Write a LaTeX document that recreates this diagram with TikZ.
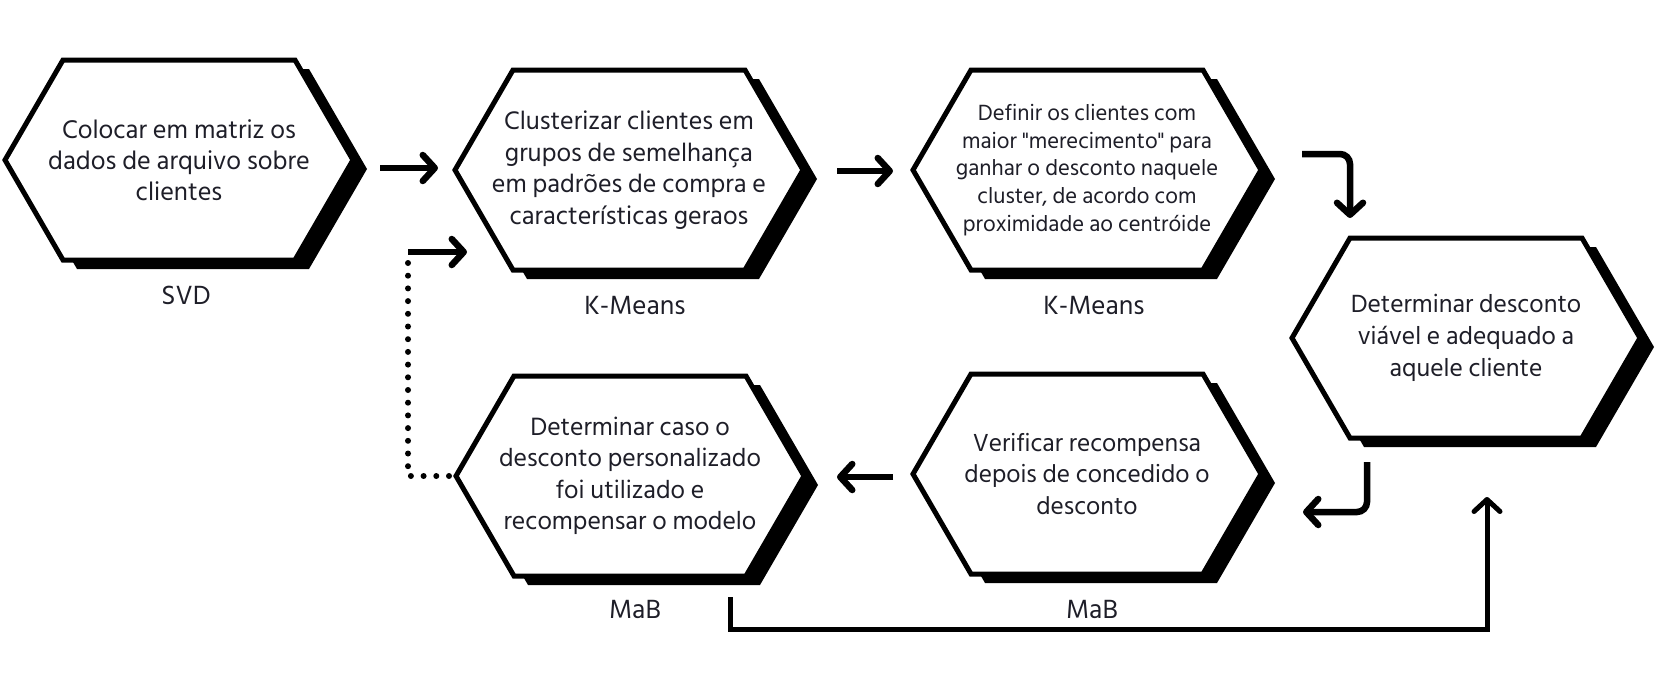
\documentclass[tikz,border=0pt]{standalone}
\usepackage{fontspec}
\setmainfont{Hind Siliguri}[Ligatures=TeXOff]
\usetikzlibrary{arrows.meta,backgrounds}
\definecolor{txt}{RGB}{30,30,40}
\tikzset{
  hexnode/.style={minimum width=348pt, minimum height=200pt, inner sep=0pt, outer sep=0pt, align=center, text=txt},
  hexline/.style={fill=white, draw=black, line width=5pt, line join=miter},
  lbl/.style={text=txt, font=\fontsize{27}{32}\selectfont, inner sep=0pt},
  arr/.style={line width=6.5pt, -{Straight Barb[length=12pt,width=26pt,round]}},
  arrthin/.style={line width=5pt, -{Straight Barb[length=12pt,width=26pt,round]}},
  dots/.style={line width=6pt, line cap=round, dash pattern=on 0pt off 12.7pt},
}
\newcommand\hexdraw[1]{%
  \fill[black] ([shift={(14pt,-9pt)}]#1.west) -- ([shift={(72pt,-9pt)}]#1.north west) -- ([shift={(-44pt,-9pt)}]#1.north east) -- ([shift={(14pt,-9pt)}]#1.east) -- ([shift={(-44pt,-9pt)}]#1.south east) -- ([shift={(72pt,-9pt)}]#1.south west) -- cycle;
  \filldraw[hexline] (#1.west) -- ([xshift=58pt]#1.north west) -- ([xshift=-58pt]#1.north east) -- (#1.east) -- ([xshift=-58pt]#1.south east) -- ([xshift=58pt]#1.south west) -- cycle;
}
\begin{document}
\begin{tikzpicture}
\useasboundingbox (0,0) rectangle (1666pt,-680pt);

\node[hexnode, font=\fontsize{26.2}{31}\selectfont] (h1) at (179pt,-160pt)
  {Colocar em matriz os\\dados de arquivo sobre\\clientes};
\node[hexnode, font=\fontsize{26}{31.5}\selectfont] (h2) at (629pt,-170pt)
  {Clusterizar clientes em\\grupos de semelhança\\em padrões de compra e\\características geraos};
\node[hexnode, font=\fontsize{22.6}{27.6}\selectfont] (h3) at (1087pt,-170pt)
  {Definir os clientes com\\maior "merecimento" para\\ganhar o desconto naquele\\cluster, de acordo com\\proximidade ao centróide};
\node[hexnode, font=\fontsize{25.5}{32}\selectfont] (h4) at (1466pt,-338pt)
  {Determinar desconto\\viável e adequado a\\aquele cliente};
\node[hexnode, font=\fontsize{25.3}{31.5}\selectfont] (h5) at (1087pt,-474pt)
  {Verificar recompensa\\depois de concedido o\\desconto};
\node[hexnode, font=\fontsize{25.7}{31.5}\selectfont] (h6) at (630pt,-476pt)
  {Determinar caso o\\desconto personalizado\\foi utilizado e\\recompensar o modelo};

\node[lbl] (l1) at ([shift={(7pt,-35pt)}]h1.south) {SVD};
\node[lbl] (l2) at ([shift={(6pt,-35pt)}]h2.south) {K-Means};
\node[lbl] (l3) at ([shift={(7pt,-35pt)}]h3.south) {K-Means};
\node[lbl] (l6) at ([shift={(5pt,-33pt)}]h6.south) {MaB};
\node[lbl] (l5) at ([shift={(5pt,-35pt)}]h5.south) {MaB};

\begin{scope}[on background layer]
  \hexdraw{h1}\hexdraw{h2}\hexdraw{h3}\hexdraw{h4}\hexdraw{h5}\hexdraw{h6}
\end{scope}

% connectors
\draw[arr] ([shift={(27pt,-8pt)}]h1.east) -- ([shift={(-17pt,2pt)}]h2.west);
\draw[arr] ([shift={(34pt,-1pt)}]h2.east) -- ([shift={(-20pt,-1pt)}]h3.west);
\draw[arr, rounded corners=10pt] ([shift={(41pt,16pt)}]h3.east) -| ([shift={(-116pt,20pt)}]h4.north);
\draw[arr, rounded corners=10pt] ([shift={(-99pt,-24pt)}]h4.south) |- ([shift={(42pt,-38pt)}]h5.east);
\draw[arr] ([shift={(-20pt,-3pt)}]h5.west) -- ([shift={(33pt,-1pt)}]h6.east);
\coordinate (fb) at ([shift={(-48pt,224pt)}]h6.west);
\draw[dots] ([xshift=-7pt]h6.west) -| (fb);
\draw[arr] (fb) -- ([shift={(12pt,-82pt)}]h2.west);
\draw[arrthin] ([shift={(100pt,-21pt)}]h6.south) -- ++(0,-32pt) -| ([shift={(21pt,-59pt)}]h4.south);
\end{tikzpicture}
\end{document}
